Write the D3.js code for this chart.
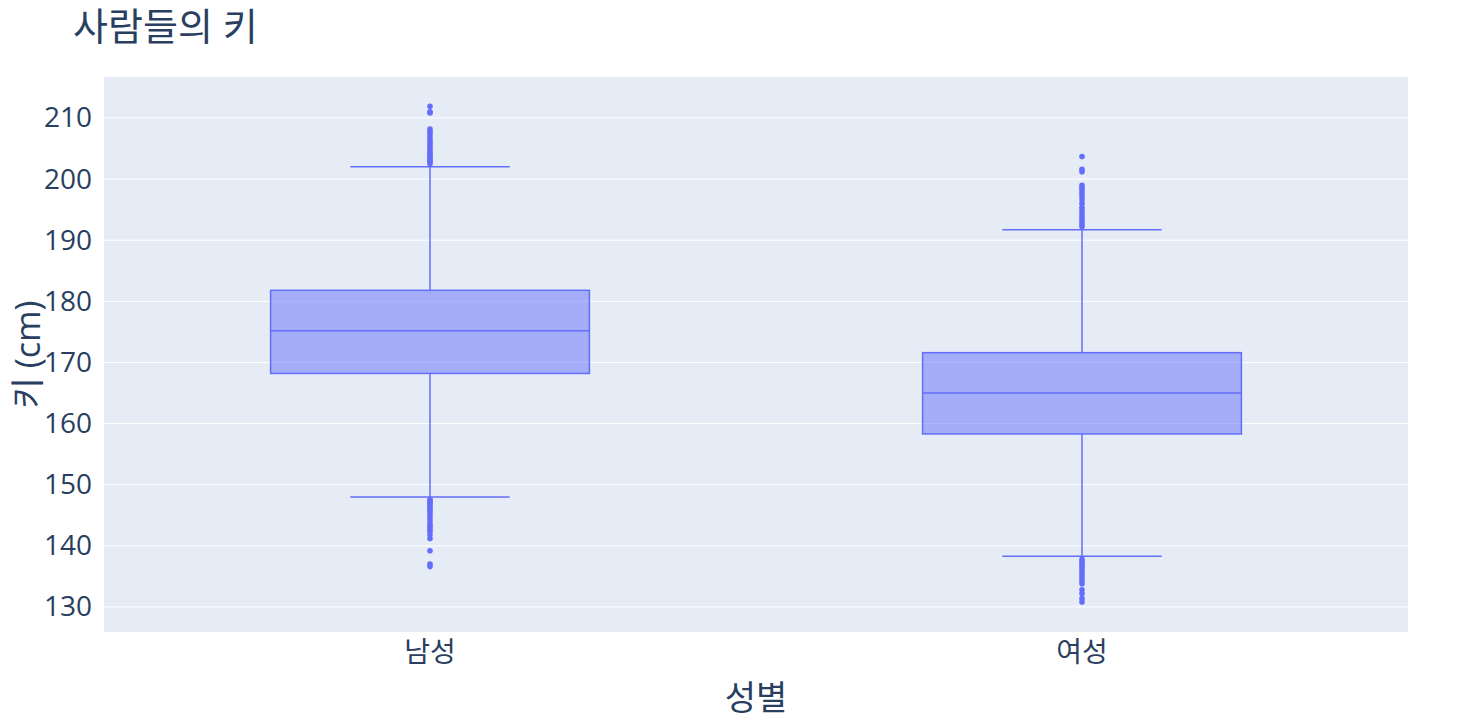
<!DOCTYPE html>
<html><head><meta charset="utf-8">
<script src="https://cdn.jsdelivr.net/npm/d3@7"></script>
<style>body{margin:0;background:#fff}text{font-family:"Open Sans","Noto Sans CJK KR",sans-serif}</style>
</head><body><div id="chart"></div>
<script>
// data
var groups = ['남성', '여성'];
var q1 = [168.2, 158.3];
var median = [175.2, 165.0];
var q3 = [181.8, 171.6];
var lowerFence = [148.0, 138.3];
var upperFence = [202.0, 191.7];
var outliers = [
  [211.9, 211.0, 210.8, 208.2, 207.8, 207.4, 206.9, 206.4, 206.0, 205.6, 205.2, 204.8, 204.4, 204.0, 203.7, 203.4, 203.1, 202.8, 202.5,
   147.6, 147.3, 147.0, 146.7, 146.4, 146.0, 145.6, 145.2, 144.7, 144.2, 143.6, 143.2, 142.8, 142.4, 141.8, 141.2, 139.2, 137.0, 136.6],
  [203.7, 201.6, 201.2, 199.0, 198.6, 198.2, 197.7, 197.2, 196.6, 196.0, 195.4, 194.9, 194.4, 193.9, 193.4, 193.0, 192.6, 192.2,
   137.8, 137.4, 137.0, 136.6, 136.2, 135.8, 135.3, 134.8, 134.3, 133.8, 132.8, 132.2, 131.4, 130.8]
];
var yTicks = [130, 140, 150, 160, 170, 180, 190, 200, 210];

var W = 1472, H = 720;
var m = {l: 104, r: 64, t: 77, b: 88};
var svg = d3.select('#chart').append('svg').attr('width', W).attr('height', H);

var x = d3.scaleBand().domain(groups).range([m.l, W - m.r]).paddingInner(0.511).paddingOuter(0.2555);
var y = d3.scaleLinear().domain([125.9, 216.7]).range([H - m.b, m.t]);

// background
svg.append('rect').attr('x', m.l).attr('y', m.t)
  .attr('width', W - m.l - m.r).attr('height', H - m.t - m.b).attr('fill', '#e5ecf6');

// grid
svg.append('g').selectAll('line').data(yTicks).join('line')
  .attr('x1', m.l).attr('x2', W - m.r)
  .attr('y1', d => y(d)).attr('y2', d => y(d))
  .attr('stroke', '#fff').attr('stroke-width', 1);

// y axis
var yAxis = svg.append('g').attr('transform', 'translate(' + m.l + ',0)')
  .call(d3.axisLeft(y).tickValues(yTicks).tickSize(0).tickPadding(12));
yAxis.select('.domain').remove();
yAxis.selectAll('text').attr('font-size', 28).attr('fill', '#2a3f5f');

// x axis
var xAxis = svg.append('g').attr('transform', 'translate(0,' + (H - m.b) + ')')
  .call(d3.axisBottom(x).tickSize(0).tickPadding(10));
xAxis.select('.domain').remove();
xAxis.selectAll('text').attr('font-size', 28).attr('fill', '#2a3f5f');

var col = '#636efa';
var bw = x.bandwidth();
var g = svg.append('g').selectAll('g').data(groups).join('g')
  .attr('transform', d => 'translate(' + (x(d) + bw / 2) + ',0)');

// whiskers
g.append('line').attr('x1', 0).attr('x2', 0)
  .attr('y1', (d, i) => y(upperFence[i])).attr('y2', (d, i) => y(q3[i]))
  .attr('stroke', col).attr('stroke-width', 1.5);
g.append('line').attr('x1', 0).attr('x2', 0)
  .attr('y1', (d, i) => y(lowerFence[i])).attr('y2', (d, i) => y(q1[i]))
  .attr('stroke', col).attr('stroke-width', 1.5);
[upperFence, lowerFence].forEach(function (f) {
  g.append('line').attr('x1', -bw / 4).attr('x2', bw / 4)
    .attr('y1', (d, i) => y(f[i])).attr('y2', (d, i) => y(f[i]))
    .attr('stroke', col).attr('stroke-width', 1.5);
});

// box
g.append('rect').attr('x', -bw / 2).attr('width', bw)
  .attr('y', (d, i) => y(q3[i])).attr('height', (d, i) => y(q1[i]) - y(q3[i]))
  .attr('fill', col).attr('fill-opacity', 0.5).attr('stroke', col).attr('stroke-width', 1.5);
g.append('line').attr('x1', -bw / 2).attr('x2', bw / 2)
  .attr('y1', (d, i) => y(median[i])).attr('y2', (d, i) => y(median[i]))
  .attr('stroke', col).attr('stroke-width', 1.5);

// outliers
g.each(function (d, i) {
  d3.select(this).selectAll('circle').data(outliers[i]).join('circle')
    .attr('cx', 0).attr('cy', v => y(v)).attr('r', 2.8).attr('fill', col);
});

// titles
svg.append('text').attr('x', 73).attr('y', 40).attr('font-size', 38).attr('fill', '#2a3f5f').text('사람들의 키');
svg.append('text').attr('x', (m.l + W - m.r) / 2).attr('y', 710).attr('text-anchor', 'middle')
  .attr('font-size', 34).attr('fill', '#2a3f5f').text('성별');
svg.append('text').attr('transform', 'translate(40,' + ((m.t + H - m.b) / 2) + ') rotate(-90)')
  .attr('text-anchor', 'middle').attr('font-size', 34).attr('fill', '#2a3f5f').text('키 (cm)');
</script></body></html>
